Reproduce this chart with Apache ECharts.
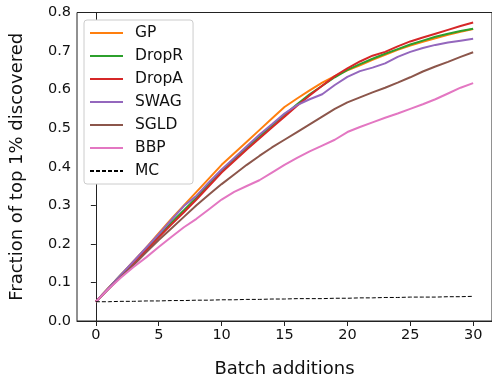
<!DOCTYPE html>
<html>
<head>
<meta charset="utf-8">
<script src="https://cdn.jsdelivr.net/npm/echarts@6/dist/echarts.min.js"></script>
<style>
  html, body { margin: 0; padding: 0; background: #fff; }
  #chart { width: 492px; height: 383px; }
</style>
</head>
<body>
<div id="chart"></div>
<script>
// batch index 0..30
const batches = [0,1,2,3,4,5,6,7,8,9,10,11,12,13,14,15,16,17,18,19,20,21,22,23,24,25,26,27,28,29,30];
const xTicks = [0, 5, 10, 15, 20, 25, 30];

const gp    = [0.050,0.085,0.120,0.155,0.190,0.228,0.265,0.300,0.335,0.370,0.405,0.435,0.465,0.495,0.525,0.555,0.577,0.598,0.618,0.635,0.650,0.663,0.677,0.690,0.703,0.714,0.724,0.733,0.742,0.750,0.757];
const dropR = [0.050,0.085,0.120,0.152,0.186,0.220,0.255,0.287,0.320,0.355,0.390,0.420,0.450,0.478,0.507,0.535,0.562,0.588,0.610,0.632,0.651,0.666,0.680,0.693,0.705,0.717,0.727,0.737,0.745,0.752,0.758];
const dropA = [0.050,0.085,0.118,0.150,0.183,0.217,0.250,0.282,0.315,0.350,0.385,0.415,0.445,0.473,0.502,0.530,0.558,0.585,0.610,0.635,0.655,0.673,0.688,0.698,0.712,0.725,0.735,0.745,0.755,0.765,0.774];
const swag  = [0.050,0.085,0.120,0.155,0.190,0.225,0.262,0.298,0.325,0.360,0.393,0.423,0.453,0.483,0.510,0.538,0.560,0.575,0.588,0.612,0.633,0.648,0.657,0.668,0.685,0.698,0.708,0.716,0.722,0.727,0.732];
const sgld  = [0.050,0.082,0.115,0.145,0.178,0.210,0.240,0.270,0.300,0.328,0.355,0.380,0.405,0.428,0.450,0.470,0.490,0.510,0.530,0.550,0.567,0.580,0.593,0.605,0.618,0.632,0.647,0.660,0.672,0.685,0.697];
const bbp   = [0.050,0.083,0.113,0.140,0.165,0.192,0.218,0.243,0.265,0.290,0.315,0.335,0.350,0.365,0.385,0.405,0.423,0.440,0.455,0.470,0.490,0.503,0.515,0.527,0.538,0.550,0.562,0.575,0.590,0.605,0.617];
const mc    = [0.050,0.050,0.051,0.051,0.052,0.052,0.053,0.053,0.054,0.054,0.055,0.055,0.056,0.056,0.057,0.057,0.058,0.058,0.058,0.059,0.059,0.060,0.060,0.061,0.061,0.062,0.062,0.062,0.063,0.063,0.064];

const FONT = '"DejaVu Sans", sans-serif';
const AXIS = '#222';

const pairs = (ys) => batches.map((x, i) => [x, ys[i]]);

function line(name, ys, color, dashed) {
  return {
    name, type: 'line', data: pairs(ys),
    symbol: 'none', showSymbol: false, smooth: false,
    lineStyle: dashed ? { color, width: 1, type: [4, 2] } : { color, width: 2 },
    itemStyle: { color },
    animation: false,
  };
}

const chart = echarts.init(document.getElementById('chart'), null, { renderer: 'canvas' });
chart.setOption({
  backgroundColor: '#fff',
  animation: false,
  textStyle: { fontFamily: FONT },
  grid: {
    left: 76, top: 12.5, width: 419, height: 313.2,
    show: true, borderColor: AXIS, borderWidth: 1, backgroundColor: 'transparent',
  },
  legend: {
    orient: 'vertical', left: 84, top: 20,
    itemWidth: 33, itemHeight: 14, itemGap: 7,
    padding: [5, 10, 5, 5],
    backgroundColor: '#fff', borderColor: '#ccc', borderWidth: 1, borderRadius: 3,
    itemStyle: { opacity: 0 },
    textStyle: { fontFamily: FONT, fontSize: 15.5, color: '#111', lineHeight: 16, padding: [0, 0, 0, 7] },
    data: ['GP', 'DropR', 'DropA', 'SWAG', 'SGLD', 'BBP', 'MC'],
  },
  xAxis: {
    type: 'value', min: -1.5, max: 31.5,
    name: 'Batch additions', nameLocation: 'middle', nameGap: 39,
    nameTextStyle: { fontFamily: FONT, fontSize: 18, color: '#111' },
    axisLine: { show: true, lineStyle: { color: AXIS, width: 1 } },
    axisTick: { show: true, inside: false, length: 5, lineStyle: { color: AXIS }, customValues: xTicks },
    axisLabel: { fontFamily: FONT, fontSize: 14.5, color: '#111', margin: 7, customValues: xTicks },
    splitLine: { show: false },
  },
  yAxis: {
    type: 'value', min: 0, max: 0.8, interval: 0.1,
    name: 'Fraction of top 1% discovered', nameLocation: 'middle', nameGap: 51,
    nameTextStyle: { fontFamily: FONT, fontSize: 18, color: '#111' },
    axisLine: { show: true, lineStyle: { color: AXIS, width: 1 } },
    axisTick: { show: true, inside: false, length: 5, lineStyle: { color: AXIS } },
    axisLabel: { fontFamily: FONT, fontSize: 14.5, color: '#111', margin: 6, formatter: (v) => v.toFixed(1) },
    splitLine: { show: false },
  },
  series: [
    line('GP', gp, '#ff7f0e'),
    line('DropR', dropR, '#2ca02c'),
    line('DropA', dropA, '#d62728'),
    line('SWAG', swag, '#9467bd'),
    line('SGLD', sgld, '#8c564b'),
    line('BBP', bbp, '#e377c2'),
    line('MC', mc, '#000', true),
  ],
});
</script>
</body>
</html>
